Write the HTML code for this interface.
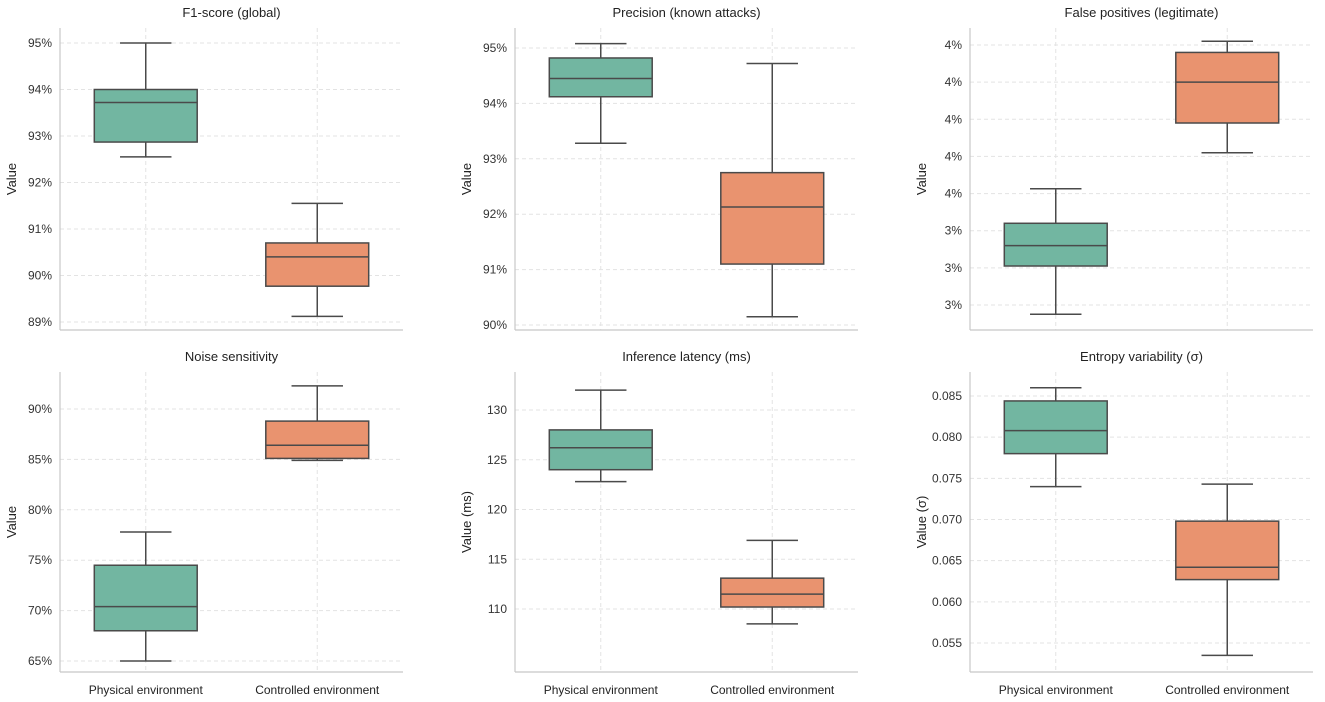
<!DOCTYPE html>
<html><head><meta charset="utf-8"><style>
body{margin:0;background:#fff;font-family:"Liberation Sans",sans-serif;}
svg{display:block}
</style></head><body>
<svg id="chart" width="1325" height="702" xmlns="http://www.w3.org/2000/svg"></svg>
<script>
const categories = ["Physical environment","Controlled environment"];
const titles = ["F1-score (global)","Precision (known attacks)","False positives (legitimate)","Noise sensitivity","Inference latency (ms)","Entropy variability (σ)"];
const yTitles = ["Value","Value","Value","Value","Value (ms)","Value (σ)"];
// [low whisker, Q1, median, Q3, high whisker] per category
const f1Stats = [[92.55,92.87,93.72,94.0,95.0],[89.12,89.77,90.4,90.7,91.55]];
const precStats = [[93.28,94.12,94.45,94.82,95.08],[90.15,91.1,92.13,92.75,94.72]];
const fpStats = [[3.175,3.305,3.36,3.42,3.513],[3.61,3.69,3.80,3.88,3.91]];
const noiseStats = [[65.0,68.0,70.4,74.5,77.8],[84.9,85.1,86.4,88.8,92.3]];
const latStats = [[122.8,124.0,126.2,128.0,132.0],[108.5,110.2,111.5,113.1,116.9]];
const entStats = [[0.074,0.078,0.0808,0.0844,0.0860],[0.0535,0.0627,0.0642,0.0698,0.0743]];
const f1Ticks = [89,90,91,92,93,94,95];
const precTicks = [90,91,92,93,94,95];
const fpTicks = [3.2,3.3,3.4,3.5,3.6,3.7,3.8,3.9];
const noiseTicks = [65,70,75,80,85,90];
const latTicks = [110,115,120,125,130];
const entTicks = [0.055,0.060,0.065,0.070,0.075,0.080,0.085];
const statsAll=[f1Stats,precStats,fpStats,noiseStats,latStats,entStats];
const ticksAll=[f1Ticks,precTicks,fpTicks,noiseTicks,latTicks,entTicks];
const fmts=[v=>v.toFixed(0)+"%",v=>v.toFixed(0)+"%",v=>(v<3.5?"3":"4")+"%",v=>v.toFixed(0)+"%",v=>v.toFixed(0),v=>v.toFixed(3)];
// scale anchors: [value a, pixel a, value b, pixel b]
const anchors=[[89,322,95,43],[90,325,95,48],[3.2,305,3.9,45],[65,661,90,409],[110,609,130,410],[0.055,643,0.085,396]];
const colors=["#72b6a1","#e9936f"];
const NS="http://www.w3.org/2000/svg";
const svg=document.getElementById('chart');
function el(t,a,p){const e=document.createElementNS(NS,t);for(const k in a)e.setAttribute(k,a[k]);(p||svg).appendChild(e);return e;}
const colX=[[60,403],[515,858],[970,1313]];
const rowY=[[28,330],[372,672]];
for(let i=0;i<6;i++){
  const c=i%3,r=Math.floor(i/3);
  const [x0,x1]=colX[c],[y0,y1]=rowY[r];
  const an=anchors[i];
  const ys=v=>an[1]+(v-an[0])*(an[3]-an[1])/(an[2]-an[0]);
  const g=el('g',{});
  
  
  const w=x1-x0, xs=k=>x0+w*(k+0.5)/2;
  ticksAll[i].forEach(t=>{
    const y=ys(t);
    const gl=el('line',{x1:x0,x2:x1,y1:y,y2:y,stroke:'#e3e3e3','stroke-dasharray':'4,3'},g);
    
    
    const tl=el('text',{x:x0-8,y:y+4,'text-anchor':'end','font-size':12,fill:'#333'},g);
    tl.textContent=fmts[i](t);
    
    
  });
  categories.forEach((cat,k)=>{
    const x=xs(k);
    el('line',{x1:x,x2:x,y1:y0,y2:y1,stroke:'#e3e3e3','stroke-dasharray':'4,3'},g);
    const s=statsAll[i][k];const bw=w*0.3,cw=bw/2;
    const b=el('g',{},g);
    
    
    const st={stroke:'#4a4a4a','stroke-width':1.5};
    el('line',Object.assign({x1:x,x2:x,y1:ys(s[0]),y2:ys(s[1])},st),b);
    el('line',Object.assign({x1:x,x2:x,y1:ys(s[3]),y2:ys(s[4])},st),b);
    el('line',Object.assign({x1:x-cw/2,x2:x+cw/2,y1:ys(s[0]),y2:ys(s[0])},st),b);
    el('line',Object.assign({x1:x-cw/2,x2:x+cw/2,y1:ys(s[4]),y2:ys(s[4])},st),b);
    el('rect',Object.assign({x:x-bw/2,y:ys(s[3]),width:bw,height:ys(s[1])-ys(s[3]),fill:colors[k]},st),b);
    el('line',Object.assign({x1:x-bw/2,x2:x+bw/2,y1:ys(s[2]),y2:ys(s[2])},st),b);
    if(r===1){const xl=el('text',{x:x,y:694,'text-anchor':'middle','font-size':12,fill:'#222'},g);xl.textContent=cat;
      
      }
  });
  el('line',{x1:x0,x2:x0,y1:y0,y2:y1,stroke:'#c8c8c8','stroke-width':1.2},g);
  el('line',{x1:x0,x2:x1,y1:y1,y2:y1,stroke:'#c8c8c8','stroke-width':1.2},g);
  const tt=el('text',{x:(x0+x1)/2,y:y0-11,'text-anchor':'middle','font-size':13,fill:'#222'},g);
  tt.textContent=titles[i];
  
  
  const ya=el('text',{x:0,y:0,'text-anchor':'middle','font-size':13,fill:'#222',transform:`translate(${x0-44},${(y0+y1)/2}) rotate(-90)`},g);
  ya.textContent=yTitles[i];
  
  
}
</script>
</body></html>
